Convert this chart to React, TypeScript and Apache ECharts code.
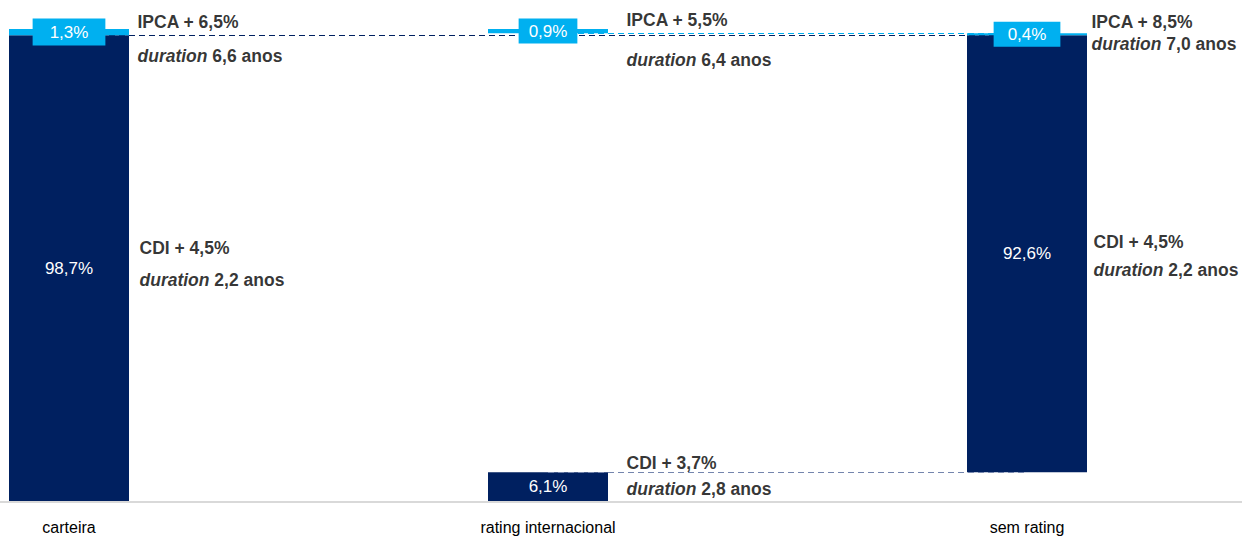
import React, { useEffect, useRef } from "react";
import * as echarts from "echarts";

const categories = ["carteira", "rating internacional", "sem rating"];
const cdiShare = [98.7, 6.1, 92.6];
const ipcaShare = [1.3, 0.9, 0.4];
const cdiSpread = ["4,5%", "3,7%", "4,5%"];
const cdiDuration = ["2,2", "2,8", "2,2"];
const ipcaSpread = ["6,5%", "5,5%", "8,5%"];
const ipcaDuration = ["6,6", "6,4", "7,0"];

const NAVY = "#002060";
const LIGHT = "#00B0F0";
const FONT = "'Liberation Sans', Arial, sans-serif";

const fmt = (v: number) => v.toFixed(1).replace(".", ",") + "%";

export default function App() {
  const ref = useRef<HTMLDivElement>(null);
  useEffect(() => {
    if (!ref.current) return;
    const chart = echarts.init(ref.current, null, { renderer: "svg" });

    const total = cdiShare[0] + ipcaShare[0];
    const base = [0, 0, cdiShare[1]];
    const gap = [0, total - cdiShare[1] - ipcaShare[1], 0];
    const ipcaTop = categories.map((_, i) => base[i] + cdiShare[i] + gap[i] + ipcaShare[i]);
    const cdiMid = categories.map((_, i) => base[i] + cdiShare[i] / 2);

    const ipcaPad = [[5, 17], [4, 10], [4, 14]];
    const ipcaAnn = [
      { dist: 68, off: 10, lh: 34 },
      { dist: 78, off: 11, lh: 40 },
      { dist: 64, off: 0, lh: 22 },
    ];
    const cdiAnn = [
      { dist: 70, off: -4, lh: 32 },
      { dist: 78, off: -11, lh: 26 },
      { dist: 66, off: 2, lh: 28 },
    ];

    const rich = (lh: number) => ({
      b: { fontFamily: FONT, fontWeight: "bold", fontSize: 17.5, color: "#000", lineHeight: lh },
      i: { fontFamily: FONT, fontWeight: "bold", fontStyle: "italic", fontSize: 17.5, color: "#000", lineHeight: lh },
    });

    const annData: any[] = [];
    categories.forEach((_, i) => {
      annData.push({
        value: [i, ipcaTop[i]],
        label: {
          distance: ipcaAnn[i].dist,
          offset: [0, ipcaAnn[i].off],
          formatter: `{b|IPCA + ${ipcaSpread[i]}}\n{i|duration}{b| ${ipcaDuration[i]} anos}`,
          rich: rich(ipcaAnn[i].lh),
        },
      });
      annData.push({
        value: [i, cdiMid[i]],
        label: {
          distance: cdiAnn[i].dist,
          offset: [0, cdiAnn[i].off],
          formatter: `{b|CDI + ${cdiSpread[i]}}\n{i|duration}{b| ${cdiDuration[i]} anos}`,
          rich: rich(cdiAnn[i].lh),
        },
      });
    });

    const dash = { type: [6, 4] as any, width: 1.2 };

    chart.setOption({
      animation: false,
      graphic: [
        {
          type: "rect",
          z: 0,
          silent: true,
          shape: { x: 0, y: 501, width: 1242, height: 2 },
          style: { fill: "#D9D9D9" },
        },
      ],
      grid: { left: 69, right: 215, top: 29, bottom: 38, containLabel: false },
      xAxis: {
        type: "category",
        boundaryGap: false,
        data: categories,
        axisLine: { show: false },
        axisTick: { show: false },
        axisLabel: { fontFamily: FONT, fontSize: 16, color: "#000", margin: 18 },
      },
      yAxis: { type: "value", min: 0, max: 100, show: false, splitLine: { show: false } },
      series: [
        {
          name: "base",
          type: "bar",
          stack: "w",
          barWidth: 120,
          clip: false,
          silent: true,
          itemStyle: { color: "transparent" },
          data: base,
          markLine: {
            silent: true,
            z: 3,
            symbol: ["none", "none"],
            label: { show: false },
            lineStyle: dash,
            data: [
              [
                { coord: [0, cdiShare[0]], lineStyle: { ...dash, color: NAVY } },
                { coord: [2, cdiShare[0]] },
              ],
              [
                { coord: [1, total - ipcaShare[1]], lineStyle: { ...dash, color: LIGHT } },
                { coord: [2, total - ipcaShare[1]] },
              ],
              [
                { coord: [1, cdiShare[1]], lineStyle: { ...dash, color: "#7485ad" } },
                { coord: [2, cdiShare[1]] },
              ],
            ],
          },
        },
        {
          name: "CDI",
          type: "bar",
          stack: "w",
          barWidth: 120,
          clip: false,
          itemStyle: { color: NAVY },
          label: {
            show: true,
            position: "inside",
            color: "#fff",
            fontFamily: FONT,
            fontSize: 17,
            formatter: (p: any) => fmt(p.value),
          },
          data: cdiShare,
        },
        {
          name: "gap",
          type: "bar",
          stack: "w",
          barWidth: 120,
          clip: false,
          silent: true,
          itemStyle: { color: "transparent" },
          data: gap,
        },
        {
          name: "IPCA",
          type: "bar",
          stack: "w",
          barWidth: 120,
          clip: false,
          z: 4,
          itemStyle: { color: LIGHT },
          label: {
            show: true,
            position: "inside",
            color: "#fff",
            fontFamily: FONT,
            fontSize: 17,
            backgroundColor: LIGHT,
            formatter: (p: any) => fmt(p.value),
          },
          data: ipcaShare.map((v, i) => ({ value: v, label: { padding: ipcaPad[i] } })),
        },
        {
          name: "annotations",
          type: "scatter",
          symbolSize: 1,
          clip: false,
          silent: true,
          itemStyle: { color: "transparent" },
          label: {
            show: true,
            position: "right",
            align: "left",
            verticalAlign: "middle",
            color: "#000",
          },
          data: annData,
          z: 5,
        },
      ],
    });
    return () => chart.dispose();
  }, []);

  return (
    <div
      ref={ref}
      style={{ position: "fixed", left: 0, top: 0, width: 1242, height: 539, background: "#fff" }}
    />
  );
}
